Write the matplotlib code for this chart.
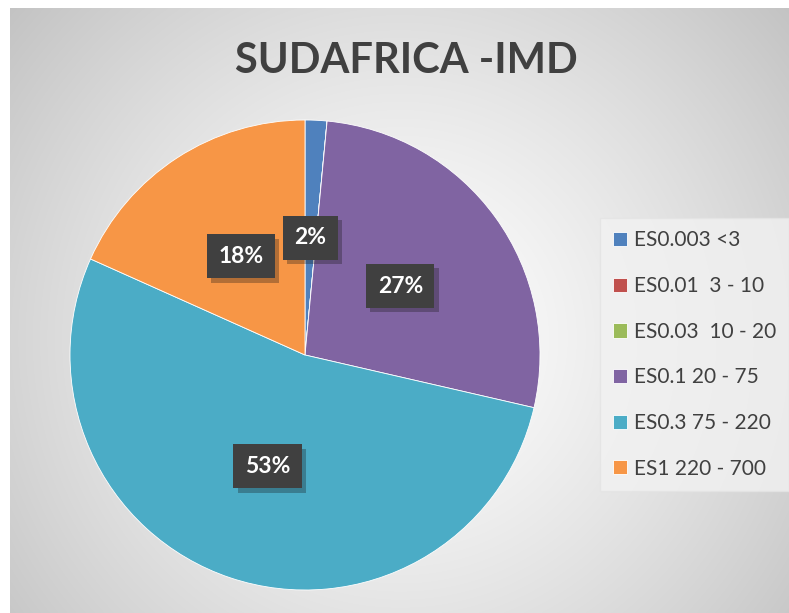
import matplotlib.pyplot as plt
import matplotlib.patheffects as pe
import numpy as np

labels = ['ES0.003 <3', 'ES0.01  3 - 10', 'ES0.03  10 - 20',
          'ES0.1 20 - 75', 'ES0.3 75 - 220', 'ES1 220 - 700']
values = [1.5, 0.0, 0.0, 27.1, 53.1, 18.3]
colors = ['#4F81BD', '#C0504D', '#9BBB59', '#8064A2', '#4BACC6', '#F79646']
title = 'SUDAFRICA -IMD'

W, H = 789, 613
fig = plt.figure(figsize=(W / 100, H / 100), dpi=100)

# background: radial gradient panel (Excel style)
bg = fig.add_axes([10 / W, 0, 1 - 10 / W, 1 - 8 / H])
yy, xx = np.mgrid[0:605, 0:779]
d = np.hypot(xx - 390, yy - 330) / 520
shade = 1 - 0.24 * np.clip(d, 0, 1) ** 1.3
bg.imshow(np.dstack([shade] * 3), aspect='auto', extent=[0, 1, 0, 1])
bg.axis('off')

fig.text(406 / W, 1 - 61 / H, title, ha='center', va='center',
         fontsize=30, fontweight='bold', color='#404040', family='Lato')

# pie
cx, cy, r = 305, 355, 235
ax = fig.add_axes([(cx - r) / W, (H - cy - r) / H, 2 * r / W, 2 * r / H])
wedges, _ = ax.pie(values, colors=colors, startangle=90, counterclock=False,
                   radius=1, wedgeprops=dict(edgecolor='white', linewidth=0.6))
ax.set_xlim(-1, 1)
ax.set_ylim(-1, 1)
ax.axis('off')

total = sum(values)
start = 0.0
for v in values:
    if v > 0:
        mid = np.radians(start + v / total * 180)
        x, y = 0.5 * np.sin(mid), 0.5 * np.cos(mid)
        t = ax.text(x, y, f'{v / total * 100:.0f}%', ha='center', va='center',
                    fontsize=16.5, fontweight='bold', color='white',
                    family='Lato',
                    bbox=dict(boxstyle='square,pad=0.5', fc='#404040', ec='none'))
        t.get_bbox_patch().set_path_effects(
            [pe.withSimplePatchShadow(offset=(3, -3), alpha=0.3), pe.Normal()])
    start += v / total * 360

leg = fig.legend(wedges, labels, loc='upper left',
                 bbox_to_anchor=(600 / W, 1 - 218 / H), frameon=True,
                 labelspacing=1.23, handlelength=0.68, handleheight=0.68,
                 handletextpad=0.35, borderpad=0.6, borderaxespad=0,
                 prop={'family': 'Lato', 'size': 15})
leg.get_frame().set_facecolor('#f2f2f2')
leg.get_frame().set_edgecolor('#e4e4e4')
leg.get_frame().set_boxstyle('square', pad=0)
for t in leg.get_texts():
    t.set_color('#404040')

fig.savefig('out.png', dpi=100)
